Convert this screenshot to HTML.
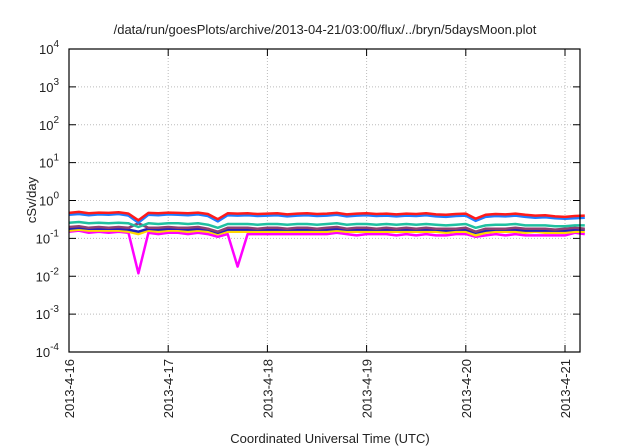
<!DOCTYPE html>
<html><head><meta charset="utf-8"><style>
html,body{margin:0;padding:0;background:#fff}
svg{display:block;font-family:"Liberation Sans",sans-serif}
</style></head><body>
<svg id="chart" width="640" height="448">
<text x="325" y="34" text-anchor="middle" font-size="13" fill="#222">/data/run/goesPlots/archive/2013-04-21/03:00/flux/../bryn/5daysMoon.plot</text>
<text transform="translate(36,200) rotate(-90)" text-anchor="middle" font-size="13" fill="#222">cSv/day</text>
<text x="330" y="443" text-anchor="middle" font-size="13" fill="#222">Coordinated Universal Time (UTC)</text>
<g id="grid"></g><g id="series"></g><g id="axes"></g>
</svg>
<script>
const yExps=[-4,-3,-2,-1,0,1,2,3,4];
const xTickLabels=["2013-4-16","2013-4-17","2013-4-18","2013-4-19","2013-4-20","2013-4-21"];
const seriesColors=["#ff00ff","#ffd700","#2020c0","#904070","#20c0a0","#1e7cff","#ff1a1a"];
const red=[0.47,0.50,0.46,0.48,0.47,0.49,0.45,0.30,0.47,0.46,0.48,0.47,0.46,0.48,0.44,0.32,0.46,0.45,0.46,0.44,0.45,0.46,0.43,0.45,0.46,0.44,0.45,0.47,0.43,0.45,0.46,0.44,0.45,0.43,0.45,0.44,0.46,0.43,0.42,0.44,0.45,0.33,0.42,0.44,0.43,0.45,0.42,0.40,0.41,0.38,0.37,0.39,0.40];
const blue=[0.42,0.44,0.41,0.43,0.42,0.44,0.40,0.26,0.42,0.41,0.43,0.42,0.41,0.43,0.39,0.28,0.41,0.40,0.41,0.39,0.40,0.41,0.38,0.40,0.41,0.39,0.40,0.42,0.38,0.40,0.41,0.39,0.40,0.38,0.40,0.39,0.41,0.38,0.37,0.39,0.40,0.29,0.37,0.39,0.38,0.40,0.37,0.35,0.36,0.34,0.33,0.34,0.35];
const teal=[0.26,0.27,0.25,0.26,0.25,0.26,0.25,0.20,0.25,0.24,0.25,0.25,0.24,0.25,0.23,0.19,0.24,0.24,0.24,0.23,0.24,0.24,0.23,0.24,0.24,0.23,0.24,0.25,0.23,0.24,0.24,0.23,0.24,0.23,0.24,0.23,0.24,0.23,0.22,0.23,0.24,0.19,0.22,0.23,0.23,0.24,0.22,0.22,0.22,0.21,0.21,0.22,0.22];
const brown=[0.20,0.21,0.19,0.20,0.19,0.20,0.19,0.25,0.19,0.19,0.20,0.19,0.19,0.20,0.18,0.15,0.19,0.19,0.19,0.18,0.19,0.19,0.18,0.19,0.19,0.18,0.19,0.20,0.18,0.19,0.19,0.18,0.19,0.18,0.19,0.18,0.19,0.18,0.18,0.18,0.19,0.15,0.18,0.18,0.18,0.19,0.18,0.18,0.18,0.17,0.18,0.19,0.18];
const navy=[0.18,0.19,0.18,0.18,0.18,0.18,0.17,0.15,0.18,0.17,0.18,0.18,0.17,0.18,0.17,0.14,0.17,0.17,0.17,0.17,0.17,0.17,0.17,0.17,0.17,0.17,0.17,0.18,0.17,0.17,0.17,0.17,0.17,0.17,0.17,0.17,0.17,0.17,0.16,0.17,0.17,0.14,0.16,0.17,0.17,0.17,0.16,0.16,0.16,0.16,0.16,0.17,0.17];
const yellow=[0.16,0.17,0.16,0.16,0.16,0.16,0.15,0.13,0.16,0.15,0.16,0.16,0.15,0.16,0.15,0.13,0.15,0.15,0.15,0.15,0.15,0.15,0.15,0.15,0.15,0.15,0.15,0.16,0.15,0.15,0.15,0.15,0.15,0.15,0.15,0.15,0.15,0.15,0.14,0.15,0.15,0.12,0.14,0.15,0.15,0.15,0.14,0.15,0.14,0.14,0.14,0.15,0.15];
const magenta=[0.15,0.16,0.14,0.15,0.14,0.15,0.14,0.012,0.14,0.13,0.14,0.14,0.13,0.14,0.13,0.11,0.13,0.018,0.13,0.13,0.13,0.13,0.13,0.13,0.13,0.13,0.13,0.14,0.13,0.12,0.13,0.13,0.13,0.12,0.13,0.12,0.13,0.12,0.12,0.13,0.13,0.11,0.12,0.13,0.12,0.13,0.12,0.12,0.12,0.12,0.12,0.14,0.13];
const seriesData=[magenta,yellow,navy,brown,teal,blue,red];
const stepDays=0.1;
const L=69,R=580,T=49,B=352,day0=69,dayW=99.2;
const NS="http://www.w3.org/2000/svg";
function X(d){return day0+d*dayW;}
function Y(v){return B-(Math.log10(v)+4)/8*(B-T);}
function mk(t,a,p){const e=document.createElementNS(NS,t);for(const k in a)e.setAttribute(k,a[k]);p.appendChild(e);return e;}
const grid=document.getElementById('grid'),axes=document.getElementById('axes'),ser=document.getElementById('series');
yExps.forEach(function(p){
  const y=Y(Math.pow(10,p));
  if(p>-4&&p<4){const g=mk('line',{x1:L,x2:R,y1:y,y2:y,stroke:'#bbb','stroke-dasharray':'1,2'},grid);
  
  }
  mk('line',{x1:L,x2:L+7,y1:y,y2:y,stroke:'#000'},axes);
  mk('line',{x1:R,x2:R-7,y1:y,y2:y,stroke:'#000'},axes);
  const t=mk('text',{x:L-10,y:y+5,'text-anchor':'end','font-size':'13',fill:'#222'},axes);
  
  
  t.textContent='10';
  const s=mk('tspan',{dy:'-7','font-size':'10'},t);s.textContent=String(p);
});
xTickLabels.forEach(function(lab,i){
  const x=X(i);
  if(i>0){const g=mk('line',{x1:x,x2:x,y1:T,y2:B,stroke:'#bbb','stroke-dasharray':'1,2'},grid);
  
  }
  mk('line',{x1:x,x2:x,y1:B,y2:B-7,stroke:'#000'},axes);
  mk('line',{x1:x,x2:x,y1:T,y2:T+7,stroke:'#000'},axes);
  const t=mk('text',{transform:'translate('+(x+5)+','+(B+7)+') rotate(-90)','text-anchor':'end','font-size':'13',fill:'#222'},axes);
  
  
  t.textContent=lab;
});
const fr=mk('rect',{x:L,y:T,width:R-L,height:B-T,fill:'none',stroke:'#000','stroke-width':'1.2'},axes);


seriesData.forEach(function(arr,si){
  const pts=arr.map(function(v,i){return X(i*stepDays).toFixed(1)+','+Y(v).toFixed(1);}).join(' ');
  const pl=mk('polyline',{points:pts,fill:'none',stroke:seriesColors[si],'stroke-width':'2.5','stroke-linejoin':'round'},ser);
  
  
});
</script>
</body></html>
